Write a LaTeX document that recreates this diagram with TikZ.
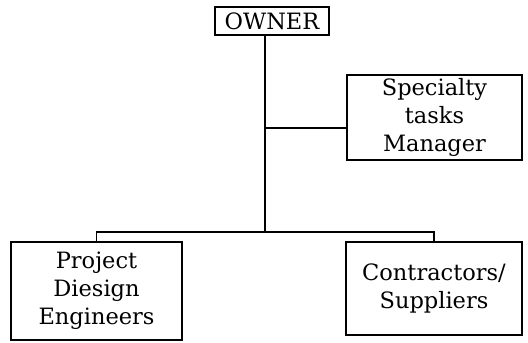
\documentclass[tikz,border=0pt]{standalone}
\usepackage{fontspec}
\setmainfont{DejaVu Serif}
\begin{document}
\begin{tikzpicture}[x=1pt,y=1pt,line width=1.2pt,
    box/.style={draw,align=center,inner sep=0pt,font=\fontsize{22.5}{28}\selectfont}]
        \useasboundingbox (0,0) rectangle (528,343);
        \node[box,minimum width=114,minimum height=28] (owner) at (272,322) {OWNER};
        \node[box,minimum width=175,minimum height=85] (spec) at (434.5,225.5) {Specialty\\tasks\\Manager};
        \node[box,minimum width=171,minimum height=98] (design) at (96.5,52) {Project\\Diesign\\Engineers};
        \node[box,minimum width=176,minimum height=93] (contr) at (434,54.5) {Contractors/\\Suppliers};
        \coordinate (tee) at (265,215);
        \coordinate (split) at (265,111);
        \draw (owner.south -| split) -- (split);
        \draw (tee) -- (tee -| spec.west);
        \draw (design.north) |- (split) -| (contr.north);
    \end{tikzpicture}
\end{document}
